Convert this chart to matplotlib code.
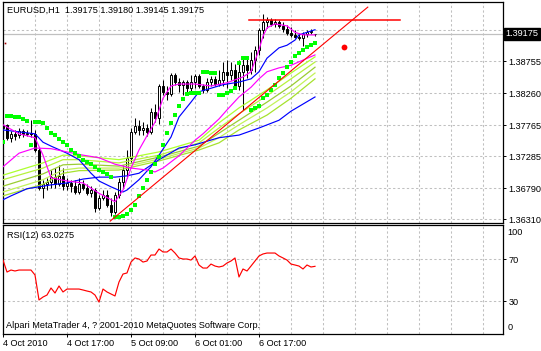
import matplotlib
matplotlib.use('Agg')
import matplotlib.pyplot as plt
from matplotlib.patches import Rectangle
from matplotlib.transforms import blended_transform_factory

plt.rcParams['font.family'] = ['Liberation Sans', 'DejaVu Sans']

# ---------------- data ----------------
title_text = "EURUSD,H1  1.39175 1.39180 1.39145 1.39175"
rsi_title = "RSI(12) 63.0275"
footer_text = "Alpari MetaTrader 4, ? 2001-2010 MetaQuotes Software Corp."
current_price = 1.39175
current_label = "1.39175"

opens = [1.3772, 1.3777, 1.3756, 1.3763, 1.3761, 1.3767, 1.3763, 1.3764, 1.3763, 1.3738,
         1.3679, 1.3685, 1.3688, 1.3696, 1.3685, 1.3698, 1.3682, 1.3687, 1.3682, 1.3673,
         1.3685, 1.3679, 1.3671, 1.3676, 1.3648, 1.3664, 1.3668, 1.3653, 1.3642, 1.3668,
         1.3688, 1.3707, 1.3726, 1.3766, 1.3775, 1.3769, 1.3772, 1.3766, 1.3797, 1.3787,
         1.3837, 1.3828, 1.3825, 1.3854, 1.3843, 1.3838, 1.3843, 1.3834, 1.3843, 1.3852,
         1.3837, 1.3831, 1.3843, 1.3848, 1.3840, 1.3846, 1.3859, 1.3854, 1.3862, 1.3837,
         1.3859, 1.3869, 1.3862, 1.3877, 1.3893, 1.3924, 1.3936, 1.3939, 1.3933, 1.3936,
         1.3930, 1.3925, 1.3919, 1.3916, 1.3913, 1.3911, 1.3917, 1.3920, 1.39175]
highs = [1.3781, 1.3778, 1.3767, 1.3769, 1.3772, 1.3770, 1.3769, 1.3784, 1.3769, 1.3741,
         1.3692, 1.3695, 1.3707, 1.3710, 1.3715, 1.3710, 1.3695, 1.3692, 1.3692, 1.3695,
         1.3692, 1.3685, 1.3682, 1.3679, 1.3668, 1.3676, 1.3676, 1.3664, 1.3673, 1.3695,
         1.3715, 1.3738, 1.3772, 1.3787, 1.3784, 1.3781, 1.3778, 1.3803, 1.3809, 1.3840,
         1.3846, 1.3837, 1.3857, 1.3857, 1.3849, 1.3846, 1.3846, 1.3854, 1.3855, 1.3855,
         1.3840, 1.3849, 1.3852, 1.3852, 1.3862, 1.3874, 1.3877, 1.3874, 1.3871, 1.3877,
         1.3882, 1.3882, 1.3890, 1.3899, 1.3927, 1.3948, 1.3944, 1.3942, 1.3941, 1.3939,
         1.3936, 1.3931, 1.3928, 1.3924, 1.3919, 1.3921, 1.3924, 1.3925, 1.3918]
lows = [1.3767, 1.3753, 1.3750, 1.3753, 1.3756, 1.3758, 1.3760, 1.3758, 1.3735, 1.3676,
        1.3664, 1.3676, 1.3679, 1.3679, 1.3682, 1.3676, 1.3676, 1.3673, 1.3670, 1.3670,
        1.3676, 1.3668, 1.3665, 1.3642, 1.3645, 1.3661, 1.3650, 1.3636, 1.3639, 1.3664,
        1.3679, 1.3695, 1.3719, 1.3763, 1.3761, 1.3761, 1.3760, 1.3763, 1.3781, 1.3778,
        1.3823, 1.3815, 1.3821, 1.3838, 1.3828, 1.3823, 1.3828, 1.3828, 1.3834, 1.3834,
        1.3826, 1.3828, 1.3837, 1.3837, 1.3837, 1.3837, 1.3834, 1.3846, 1.3834, 1.3831,
        1.3800, 1.3849, 1.3855, 1.3859, 1.3885, 1.3911, 1.3927, 1.3930, 1.3928, 1.3927,
        1.3920, 1.3916, 1.3913, 1.3911, 1.3908, 1.3899, 1.3913, 1.3917, 1.39145]
closes = [1.3777, 1.3756, 1.3762, 1.3760, 1.3767, 1.3763, 1.3764, 1.3763, 1.3738, 1.3679,
          1.3685, 1.3688, 1.3696, 1.3685, 1.3698, 1.3682, 1.3687, 1.3682, 1.3673, 1.3685,
          1.3679, 1.3671, 1.3676, 1.3648, 1.3664, 1.3668, 1.3653, 1.3642, 1.3668, 1.3688,
          1.3707, 1.3726, 1.3766, 1.3775, 1.3769, 1.3772, 1.3766, 1.3797, 1.3787, 1.3837,
          1.3828, 1.3825, 1.3854, 1.3843, 1.3838, 1.3843, 1.3834, 1.3843, 1.3852, 1.3837,
          1.3831, 1.3843, 1.3848, 1.3840, 1.3846, 1.3859, 1.3854, 1.3862, 1.3837, 1.3859,
          1.3869, 1.3862, 1.3877, 1.3893, 1.3924, 1.3936, 1.3939, 1.3933, 1.3936, 1.3930,
          1.3925, 1.3919, 1.3916, 1.3913, 1.3911, 1.3917, 1.3920, 1.3922, 1.39175]

# moving averages (bar index, value)
ma_fast_mag_bars = [0, 4, 8, 10, 12, 16, 20, 24, 28, 30, 32, 34, 36, 38, 40, 42, 44, 48, 52, 56,
                    60, 62, 64, 65, 66, 68, 71, 73, 75, 78]
ma_fast_mag = [1.3777, 1.3763, 1.3757, 1.3730, 1.3695, 1.3690, 1.3687, 1.3671, 1.3658, 1.3676,
               1.3710, 1.3738, 1.3760, 1.3781, 1.3818, 1.3837, 1.3840, 1.3840, 1.3837, 1.3842,
               1.3851, 1.3859, 1.3893, 1.3914, 1.3927, 1.3933, 1.3930, 1.3920, 1.3916, 1.3916]
ma_slow_mag_bars = [0, 4, 8, 12, 16, 20, 24, 28, 32, 36, 38, 40, 44, 48, 50, 54, 56, 59, 62, 64,
                    66, 69, 72, 78]
ma_slow_mag = [1.3712, 1.3733, 1.3741, 1.3740, 1.3735, 1.3730, 1.3726, 1.3716, 1.3710, 1.3707,
               1.3704, 1.3710, 1.3729, 1.3753, 1.3763, 1.3786, 1.3800, 1.3820, 1.3835, 1.3848,
               1.3859, 1.3865, 1.3869, 1.3885]
ma_fast_blue_bars = [0, 4, 8, 10, 12, 16, 19, 22, 24, 27, 30, 31, 34, 37, 39, 42, 44, 47, 49, 55,
                     59, 62, 64, 66, 69, 71, 73, 74, 76, 78]
ma_fast_blue = [1.3769, 1.3766, 1.3763, 1.3750, 1.3744, 1.3733, 1.3723, 1.3702, 1.3690, 1.3681,
                1.3673, 1.3676, 1.3692, 1.3712, 1.3730, 1.3758, 1.3789, 1.3812, 1.3828, 1.3839,
                1.3843, 1.3848, 1.3859, 1.3880, 1.3896, 1.3900, 1.3908, 1.3916, 1.3920, 1.3924]
ma_slow_blue_bars = [0, 2, 6, 12, 16, 20, 24, 28, 31, 34, 39, 44, 48, 54, 59, 64, 69, 72, 78]
ma_slow_blue = [1.3661, 1.3667, 1.3678, 1.3684, 1.3687, 1.3693, 1.3696, 1.3696, 1.3698, 1.3702,
                1.3723, 1.3741, 1.3746, 1.3757, 1.3761, 1.3772, 1.3784, 1.3798, 1.3820]

ribbon_bars = [0, 10, 15, 19, 29, 39, 49, 54, 59, 66, 72, 78]
ribbon_1 = [1.3699, 1.3718, 1.3730, 1.3729, 1.3723, 1.3735, 1.3753, 1.3780, 1.3803, 1.3831, 1.3857, 1.3882]
ribbon_2 = [1.3692, 1.3710, 1.3723, 1.3723, 1.3718, 1.3730, 1.3749, 1.3772, 1.3794, 1.3822, 1.3848, 1.3874]
ribbon_3 = [1.3682, 1.3701, 1.3715, 1.3716, 1.3713, 1.3727, 1.3744, 1.3764, 1.3784, 1.3812, 1.3837, 1.3866]
ribbon_4 = [1.3673, 1.3692, 1.3707, 1.3710, 1.3710, 1.3724, 1.3741, 1.3757, 1.3777, 1.3803, 1.3828, 1.3857]
ribbon_5 = [1.3667, 1.3685, 1.3702, 1.3706, 1.3707, 1.3721, 1.3738, 1.3749, 1.3769, 1.3792, 1.3818, 1.3848]

sar = [1.3750, 1.3791, 1.3791, 1.3789, 1.3789, 1.3786, 1.3783, 1.3746, 1.3781, 1.3781,
       1.3780, 1.3772, 1.3764, 1.3761, 1.3755, 1.3750, 1.3746, 1.3738, 1.3733, 1.3729,
       1.3723, 1.3719, 1.3716, 1.3712, 1.3707, 1.3704, 1.3701, 1.3696, 1.3634, 1.3634,
       1.3636, 1.3639, 1.3645, 1.3653, 1.3667, 1.3679, 1.3692, 1.3704, 1.3716, 1.3727,
       1.3746, 1.3764, 1.3780, 1.3792, 1.3806, 1.3817, 1.3825, 1.3826, 1.3826, 1.3826,
       1.3859, 1.3859, 1.3857, 1.3857, 1.3823, 1.3823, 1.3826, 1.3829, 1.3834, 1.3873,
       1.3880, 1.3880, 1.3800, 1.3803, 1.3806, 1.3818, 1.3823, 1.3831, 1.3839, 1.3849,
       1.3857, 1.3866, 1.3874, 1.3883, 1.3888, 1.3893, 1.3897, 1.3900, 1.3903]

rsi = [69.0, 57.6, 59.5, 58.6, 59.5, 59.5, 59.5, 59.5, 54.8, 31.0,
       33.8, 35.7, 42.4, 37.6, 44.3, 38.6, 41.4, 41.4, 41.4, 41.4,
       40.5, 39.5, 38.6, 35.7, 29.0, 41.4, 38.6, 36.7, 34.8, 48.1,
       55.7, 56.7, 67.1, 71.0, 70.0, 67.1, 68.1, 73.8, 73.8, 79.5,
       76.7, 76.7, 79.5, 75.7, 71.0, 70.0, 70.0, 69.0, 72.9, 64.3,
       61.4, 61.4, 65.2, 63.3, 62.4, 63.3, 66.2, 68.1, 71.0, 52.9,
       60.5, 58.6, 63.3, 68.1, 72.9, 74.8, 75.7, 75.7, 75.7, 72.9,
       71.0, 69.0, 65.2, 64.3, 63.3, 60.5, 64.3, 62.4, 63.03]

trend_bars = [26.8, 91.2]
trend_prices = [1.3628, 1.3959]
hline_bars = [61.5, 99.2]
hline_price = 1.3939
dot_bar, dot_price = 85.3, 1.3897
mark_bar, mark_price = 0.5, 1.3903

price_ticks = [1.39235, 1.38755, 1.38260, 1.37765, 1.37285, 1.36790, 1.36310]
rsi_levels = [70, 30]
time_label_bars = [0, 16, 32, 48, 64]
time_labels = ["4 Oct 2010", "4 Oct 17:00", "5 Oct 09:00", "6 Oct 01:00", "6 Oct 17:00"]
grid_bars = list(range(8, 121, 8))

# ---------------- layout ----------------
W, H = 541, 351
fig = plt.figure(figsize=(W / 100, H / 100), dpi=100)
fig.patch.set_facecolor('white')


def axrect(x0, y0, x1, y1):
    return [x0 / W, 1 - y1 / H, (x1 - x0) / W, (y1 - y0) / H]


ax = fig.add_axes(axrect(2.5, 2, 503, 222.5))
axr = fig.add_axes(axrect(2.5, 225, 503, 333.5))

FS = 6.6
grid_kw = dict(color='#c0c0c0', lw=0.75, ls=(0, (2.2, 2.2)), zorder=0)

for a in (ax, axr):
    a.set_xlim(-0.125, 125)
    for s in a.spines.values():
        s.set_color('black')
        s.set_linewidth(0.9)
    for b in grid_bars:
        a.axvline(b, **grid_kw)
    a.yaxis.tick_right()
    a.tick_params(axis='y', length=2.5, width=0.7, pad=1.5, labelsize=FS, colors='black')

# ---- main panel ----
ax.set_ylim(1.36258, 1.39669)
for v in price_ticks:
    ax.axhline(v, **grid_kw)
ax.set_yticks(price_ticks)
ax.set_yticklabels(['%.5f' % v for v in price_ticks])
ax.set_xticks([])

ax.axhline(current_price, color='#c0c0c0', lw=0.9, zorder=0.5)

body_w = 0.55
for i, (o, h, l, c) in enumerate(zip(opens, highs, lows, closes)):
    ax.plot([i, i], [l, h], color='black', lw=0.75, zorder=2, solid_capstyle='butt')
    lo, hi = min(o, c), max(o, c)
    hgt = max(hi - lo, 0.00002)
    fc = 'white' if c >= o else 'black'
    ax.add_patch(Rectangle((i - body_w / 2, lo), body_w, hgt, facecolor=fc,
                           edgecolor='black', lw=0.7, zorder=2.1))

ribbon_colors = ['#adff2f', '#b6f23c', '#9acd32', '#c2f25a', '#a6e22e']
for vals, col in zip([ribbon_1, ribbon_2, ribbon_3, ribbon_4, ribbon_5], ribbon_colors):
    ax.plot(ribbon_bars, vals, color=col, lw=0.9, zorder=3)

ax.plot(ma_slow_blue_bars, ma_slow_blue, color='#0000ff', lw=0.85, zorder=3.2)
ax.plot(ma_fast_blue_bars, ma_fast_blue, color='#0000ff', lw=0.85, zorder=3.3)
ax.plot(ma_slow_mag_bars, ma_slow_mag, color='#ff00ff', lw=0.85, zorder=3.4)
ax.plot(ma_fast_mag_bars, ma_fast_mag, color='#ff00ff', lw=0.85, zorder=3.5)

ax.plot(range(len(sar)), sar, ls='none', marker='s', ms=2.9, mfc='#00ff00',
        mec='#00ff00', mew=0, zorder=4)

ax.plot(trend_bars, trend_prices, color='#ff0000', lw=0.8, zorder=4.5)
ax.plot(hline_bars, [hline_price, hline_price], color='#ff0000', lw=1.1, zorder=4.5)
ax.plot([dot_bar], [dot_price], marker='o', ms=4.2, color='#ff0000', mew=0, zorder=4.6)
ax.plot([mark_bar], [mark_price], marker='s', ms=1.2, color='#a00000', mew=0, zorder=4.6)

tr = blended_transform_factory(ax.transAxes, ax.transData)
ax.text(1.005, current_price, current_label, transform=tr, ha='left', va='center',
        color='white', fontsize=FS, zorder=20, clip_on=False,
        bbox=dict(boxstyle='square,pad=0.2', fc='black', ec='black'))

# ---- RSI panel ----
axr.set_ylim(-0.95, 102.4)
for v in rsi_levels:
    axr.axhline(v, **grid_kw)
axr.set_yticks(rsi_levels)
axr.set_yticklabels([str(v) for v in rsi_levels])
trr = blended_transform_factory(axr.transAxes, axr.transData)
axr.text(1.0095, 95.0, "100", transform=trr, ha='left', va='center', fontsize=FS, clip_on=False)
axr.text(1.0095, 5.0, "0", transform=trr, ha='left', va='center', fontsize=FS, clip_on=False)
axr.plot(range(len(rsi)), rsi, color='#ff0000', lw=0.85, zorder=3)

axr.set_xticks(time_label_bars)
axr.set_xticklabels(time_labels)
axr.tick_params(axis='x', length=2.5, width=0.7, pad=1.2, labelsize=FS, colors='black')
for lab in axr.get_xticklabels():
    lab.set_horizontalalignment('left')

# ---- texts ----
fig.text(7 / W, 1 - 10.7 / H, title_text, fontsize=FS, va='center', ha='left')
fig.text(7 / W, 1 - 235.5 / H, rsi_title, fontsize=FS, va='center', ha='left')
fig.text(6 / W, 1 - 326 / H, footer_text, fontsize=FS, va='center', ha='left')

fig.savefig('out.png', dpi=100)
